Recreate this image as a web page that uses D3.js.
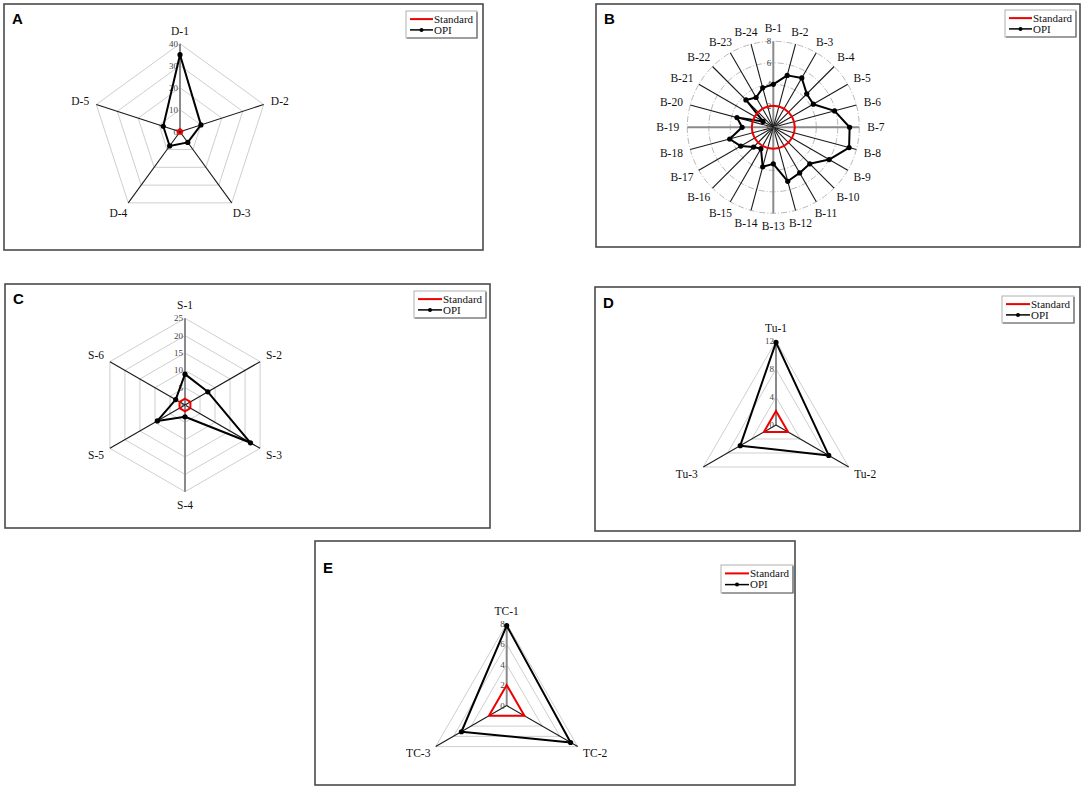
<!DOCTYPE html>
<html>
<head>
<meta charset="utf-8">
<script src="https://cdn.jsdelivr.net/npm/d3@7"></script>
<style>
  body { margin: 0; background: #fff; }
  svg { display: block; }
</style>
</head>
<body>
<svg id="chart" width="1084" height="787"></svg>
<script>
// ---- data ----
var aLabels = ["D-1", "D-2", "D-3", "D-4", "D-5"];
var aOPI = [35, 10, 6, 8, 8];
var aStandard = [1.2, 1.2, 1.2, 1.2, 1.2];
var aTicks = [0, 10, 20, 30, 40];

var bLabels = ["B-1", "B-2", "B-3", "B-4", "B-5", "B-6", "B-7", "B-8", "B-9", "B-10", "B-11", "B-12",
  "B-13", "B-14", "B-15", "B-16", "B-17", "B-18", "B-19", "B-20", "B-21", "B-22", "B-23", "B-24"];
var bOPI = [4.0, 5.0, 5.3, 4.4, 4.3, 5.9, 7.1, 7.3, 6.0, 4.8, 4.9, 5.2,
  3.4, 3.8, 2.3, 2.6, 3.5, 4.2, 2.9, 3.5, 1.1, 3.6, 3.2, 3.8];
var bStandard = [2, 2, 2, 2, 2, 2, 2, 2, 2, 2, 2, 2, 2, 2, 2, 2, 2, 2, 2, 2, 2, 2, 2, 2];
var bTicks = [0, 2, 4, 6, 8];

var cLabels = ["S-1", "S-2", "S-3", "S-4", "S-5", "S-6"];
var cOPI = [8.9, 7.6, 21.8, 3.4, 9.2, 3.1];
var cStandard = [1.8, 1.8, 1.8, 1.8, 1.8, 1.8];
var cTicks = [0, 5, 10, 15, 20, 25];

var dLabels = ["Tu-1", "Tu-2", "Tu-3"];
var dOPI = [11.8, 8.7, 5.9];
var dStandard = [2, 2, 2];
var dTicks = [0, 4, 8, 12];

var eLabels = ["TC-1", "TC-2", "TC-3"];
var eOPI = [7.8, 7.2, 5.1];
var eStandard = [2, 2, 2];
var eTicks = [0, 2, 4, 6, 8];

var legendNames = ["Standard", "OPI"];

var svg = d3.select("#chart");
var serif = "'Liberation Serif', 'Times New Roman', serif";

function drawPanel(p) {
  // frame
  svg.append("rect")
    .attr("x", p.box[0]).attr("y", p.box[1])
    .attr("width", p.box[2]).attr("height", p.box[3])
    .attr("fill", "none")
    .attr("stroke", "#4a4a4a")
    .attr("stroke-width", 1.6);

  svg.append("text")
    .attr("x", p.box[0] + 8).attr("y", p.box[1] + p.letterDy)
    .attr("font-family", "'Liberation Sans', Arial, sans-serif")
    .attr("font-weight", "bold")
    .attr("font-size", "15px")
    .attr("fill", "#000")
    .text(p.letter);

  var n = p.labels.length;
  var step = 2 * Math.PI / n;
  var max = p.ticks[p.ticks.length - 1];
  var r = d3.scaleLinear().domain([0, max]).range([0, p.r]);

  var g = svg.append("g")
    .attr("transform", "translate(" + p.cx + "," + p.cy + ")");

  var radial = d3.lineRadial()
    .angle(function(d, i) { return i * step; })
    .radius(function(d) { return r(d); })
    .curve(d3.curveLinearClosed);

  // rings
  p.ticks.slice(1).forEach(function(t) {
    if (p.circles) {
      g.append("circle")
        .attr("r", r(t))
        .attr("fill", "none")
        .attr("stroke", "#b8b8b8")
        .attr("stroke-width", 1)
        .attr("stroke-dasharray", "6,2,1,2");
    } else {
      g.append("path")
        .attr("d", radial(p.labels.map(function() { return t; })))
        .attr("fill", "none")
        .attr("stroke", "#cfcfcf")
        .attr("stroke-width", 1);
    }
  });

  // spokes
  p.labels.forEach(function(lab, i) {
    var a = i * step;
    var isAxis = p.greySpokes.indexOf(i) >= 0;
    g.append("line")
      .attr("x1", 0).attr("y1", 0)
      .attr("x2", r(max) * Math.sin(a))
      .attr("y2", -r(max) * Math.cos(a))
      .attr("stroke", isAxis ? "#8a8a8a" : "#1a1a1a")
      .attr("stroke-width", isAxis ? 2 : 1.1);
  });

  // tick labels along the first axis
  g.selectAll(".tick")
    .data(p.ticks)
    .enter()
    .append("text")
    .attr("x", -2)
    .attr("y", function(d) { return -r(d); })
    .attr("dy", "0.35em")
    .attr("text-anchor", "end")
    .attr("font-family", serif)
    .attr("font-size", "9px")
    .attr("fill", "#444")
    .text(function(d) { return d; });

  // OPI series
  g.append("path")
    .attr("d", radial(p.opi))
    .attr("fill", "none")
    .attr("stroke", "#000")
    .attr("stroke-width", 2)
    .attr("stroke-linejoin", "round");

  g.selectAll(".pt")
    .data(p.opi)
    .enter()
    .append("circle")
    .attr("cx", function(d, i) { return r(d) * Math.sin(i * step); })
    .attr("cy", function(d, i) { return -r(d) * Math.cos(i * step); })
    .attr("r", 2.6)
    .attr("fill", "#000");

  // Standard series
  g.append("path")
    .attr("d", radial(p.std))
    .attr("fill", "none")
    .attr("stroke", "#ee0000")
    .attr("stroke-width", 2);

  // category labels
  p.labels.forEach(function(lab, i) {
    var a = i * step;
    var sx = Math.sin(a), sy = -Math.cos(a);
    var t = g.append("text")
      .attr("text-anchor", "middle")
      .attr("dy", "0.35em")
      .attr("font-family", serif)
      .attr("font-size", "11.5px")
      .attr("fill", "#111")
      .text(lab);
    var w = t.node().getComputedTextLength();
    var rr = r(max) + 8;
    t.attr("x", rr * sx + sx * w / 2)
     .attr("y", rr * sy + sy * 5);
  });

  // legend
  var L = p.legend;
  var lg = svg.append("g").attr("transform", "translate(" + L[0] + "," + L[1] + ")");
  lg.append("rect")
    .attr("width", L[2]).attr("height", L[3])
    .attr("fill", "#fff")
    .attr("stroke", "#b0b0b0")
    .attr("stroke-width", 1);
  lg.append("path")
    .attr("d", "M" + L[2] + ",1V" + L[3] + "H1")
    .attr("fill", "none")
    .attr("stroke", "#666")
    .attr("stroke-width", 1.2);
  var textX = L[2] - 43;
  var rowY = [L[3] * 0.3, L[3] * 0.7];
  lg.append("line")
    .attr("x1", 4).attr("x2", textX - 1)
    .attr("y1", rowY[0]).attr("y2", rowY[0])
    .attr("stroke", "#ee0000").attr("stroke-width", 2);
  lg.append("line")
    .attr("x1", 4).attr("x2", textX - 1)
    .attr("y1", rowY[1]).attr("y2", rowY[1])
    .attr("stroke", "#000").attr("stroke-width", 1.5);
  lg.append("circle")
    .attr("cx", (4 + textX - 1) / 2).attr("cy", rowY[1])
    .attr("r", 2).attr("fill", "#000");
  lg.selectAll(".lt")
    .data(legendNames)
    .enter()
    .append("text")
    .attr("x", textX)
    .attr("y", function(d, i) { return rowY[i]; })
    .attr("dy", "0.35em")
    .attr("font-family", serif)
    .attr("font-size", "11px")
    .attr("fill", "#111")
    .text(function(d) { return d; });
}

drawPanel({ letter: "A", letterDy: 20, box: [4, 4, 479, 246], cx: 180, cy: 131.7, r: 88,
  labels: aLabels, opi: aOPI, std: aStandard, ticks: aTicks, greySpokes: [0],
  legend: [406, 11, 71, 27] });

drawPanel({ letter: "B", letterDy: 20, box: [596, 4, 484, 243], cx: 773.3, cy: 127.3, r: 86,
  labels: bLabels, opi: bOPI, std: bStandard, ticks: bTicks, greySpokes: [0, 6, 12, 18],
  circles: true, legend: [1005, 10, 71, 27] });

drawPanel({ letter: "C", letterDy: 20, box: [5, 284, 485, 244], cx: 185, cy: 405, r: 86.7,
  labels: cLabels, opi: cOPI, std: cStandard, ticks: cTicks, greySpokes: [0, 3],
  legend: [414, 291, 72, 27] });

drawPanel({ letter: "D", letterDy: 21, box: [595, 287, 485, 244], cx: 776, cy: 425, r: 84,
  labels: dLabels, opi: dOPI, std: dStandard, ticks: dTicks, greySpokes: [0],
  legend: [1002, 296, 72, 27] });

drawPanel({ letter: "E", letterDy: 32, box: [315, 541, 480, 244], cx: 506.7, cy: 705.6, r: 82,
  labels: eLabels, opi: eOPI, std: eStandard, ticks: eTicks, greySpokes: [0],
  legend: [721, 565, 72, 28] });
</script>
</body>
</html>
